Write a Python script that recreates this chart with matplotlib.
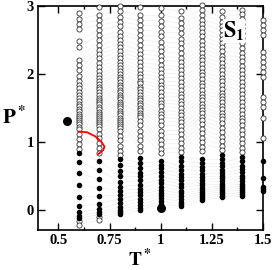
import matplotlib.pyplot as plt
import numpy as np

plt.rcParams['font.family'] = 'serif'
plt.rcParams['font.serif'] = ['Liberation Serif', 'DejaVu Serif']
plt.rcParams['font.weight'] = 'bold'
plt.rcParams['mathtext.fontset'] = 'stix'

# isotherm columns: open (top, descending) / filled (bottom, descending)
open_06 = [2.90, 2.81, 2.74, 2.66, 2.48, 2.40, 2.21, 2.13, 2.06, 1.97, 1.90, 1.84, 1.79, 1.74, 1.69, 1.65, 1.60,
           1.56, 1.52, 1.48, 1.45, 1.41, 1.38, 1.35, 1.32, 1.29, 1.26, 1.22, 1.19, 1.12, 1.04, 0.97, 0.90]
filled_06 = [0.84, 0.70, 0.54, 0.37, 0.19, 0.05, -0.04, -0.09, -0.13]
low_06 = [-0.17, -0.22]

open_07 = [2.99, 2.87, 2.79, 2.72, 2.65, 2.57, 2.50, 2.43, 2.35, 2.29, 2.23, 2.16, 2.10, 2.04, 1.99, 1.94, 1.89,
           1.85, 1.81, 1.77, 1.73, 1.69, 1.65, 1.62, 1.58, 1.55, 1.51, 1.48, 1.44, 1.41, 1.38, 1.35, 1.32, 1.29,
           1.26, 1.23, 1.19, 1.12, 1.05, 0.98, 0.91, 0.84]
filled_07 = [0.72, 0.58, 0.45, 0.32, 0.20, 0.09, 0.01, -0.04, -0.07]
low_07 = [-0.11, -0.15]

open_08 = [3.00, 2.92, 2.84, 2.77, 2.70, 2.62, 2.56, 2.50, 2.44, 2.39, 2.33, 2.28, 2.23, 2.18, 2.13, 2.09, 2.04,
           2.00, 1.96, 1.92, 1.88, 1.84, 1.80, 1.76, 1.73, 1.69, 1.66, 1.63, 1.59, 1.56, 1.52, 1.49, 1.46, 1.42,
           1.39, 1.35, 1.32, 1.29, 1.26, 1.23, 1.20, 1.16, 1.09, 1.02, 0.94, 0.87, 0.80]
filled_08 = [0.75, 0.66, 0.57, 0.49, 0.41, 0.34, 0.28, 0.22, 0.16, 0.10, 0.04, 0.00, -0.04, -0.07]

open_09 = [2.98, 2.87, 2.79, 2.72, 2.65, 2.57, 2.50, 2.43, 2.35, 2.29, 2.23, 2.17, 2.11, 2.05, 2.00, 1.95, 1.90,
           1.86, 1.81, 1.77, 1.73, 1.69, 1.65, 1.61, 1.57, 1.54, 1.50, 1.47, 1.43, 1.40, 1.36, 1.31, 1.24, 1.16,
           1.09, 1.02, 0.94, 0.87]
filled_09 = [0.76, 0.69, 0.62, 0.54, 0.49, 0.43, 0.37, 0.31, 0.26, 0.22, 0.16, 0.12, 0.07, 0.03, -0.01]

open_10 = [2.97, 2.87, 2.78, 2.71, 2.62, 2.55, 2.47, 2.40, 2.33, 2.26, 2.20, 2.13, 2.07, 2.01, 1.95, 1.90, 1.84,
           1.79, 1.73, 1.68, 1.62, 1.57, 1.52, 1.46, 1.41, 1.36, 1.31, 1.24, 1.16, 1.10, 1.03, 0.97, 0.90, 0.83]
filled_10 = [0.71, 0.66, 0.61, 0.55, 0.49, 0.44, 0.39, 0.34, 0.29, 0.25, 0.21, 0.17, 0.13, 0.09]

open_11 = [2.92, 2.82, 2.75, 2.67, 2.60, 2.52, 2.45, 2.38, 2.30, 2.24, 2.18, 2.11, 2.05, 2.00, 1.94, 1.88, 1.82,
           1.76, 1.71, 1.66, 1.60, 1.55, 1.50, 1.44, 1.39, 1.34, 1.29, 1.23, 1.17, 1.11, 1.04, 0.98, 0.91, 0.85]
filled_11 = [0.77, 0.71, 0.65, 0.59, 0.53, 0.48, 0.43, 0.38, 0.33, 0.28, 0.24, 0.20, 0.16, 0.12, 0.08, 0.05]

open_12 = [3.01, 2.94, 2.87, 2.80, 2.74, 2.67, 2.61, 2.55, 2.49, 2.43, 2.37, 2.31, 2.25, 2.20, 2.14, 2.09, 2.03,
           1.98, 1.93, 1.87, 1.82, 1.76, 1.71, 1.66, 1.61, 1.56, 1.51, 1.47, 1.42, 1.37, 1.32, 1.26, 1.19, 1.13,
           1.06, 0.99, 0.93, 0.86]
filled_12 = [0.75, 0.69, 0.63, 0.58, 0.53, 0.48, 0.44, 0.40, 0.36, 0.32, 0.29, 0.26, 0.23, 0.20, 0.17, 0.14]

open_13 = [2.92, 2.84, 2.77, 2.71, 2.64, 2.57, 2.51, 2.45, 2.39, 2.33, 2.27, 2.22, 2.16, 2.10, 2.05, 2.00, 1.94,
           1.89, 1.83, 1.78, 1.72, 1.68, 1.63, 1.58, 1.53, 1.48, 1.43, 1.38, 1.33, 1.27, 1.20, 1.14, 1.07, 1.01,
           0.94, 0.88]
filled_13 = [0.81, 0.75, 0.69, 0.64, 0.59, 0.54, 0.50, 0.46, 0.42, 0.38, 0.35, 0.32, 0.29, 0.26, 0.23, 0.20, 0.18]

open_14 = [2.94, 2.88, 2.81, 2.74, 2.67, 2.60, 2.53, 2.45, 2.38, 2.31, 2.25, 2.19, 2.12, 2.06, 2.00, 1.94, 1.88,
           1.82, 1.76, 1.71, 1.65, 1.59, 1.53, 1.47, 1.41, 1.35, 1.30, 1.24, 1.17, 1.11, 1.04, 0.98, 0.91, 0.85]
filled_14 = [0.77, 0.71, 0.65, 0.60, 0.55, 0.50, 0.46, 0.42, 0.38, 0.35, 0.32, 0.29, 0.26, 0.23, 0.20]

open_15 = [2.79, 2.72, 2.64, 2.57, 2.32, 2.25, 2.18, 2.10, 2.03, 1.96, 1.66, 1.59, 1.51, 1.35, 1.05]
filled_15 = [0.71, 0.47, 0.34, 0.31, 0.27]

# red line and the two big dots
red_t = [0.60, 0.64, 0.68, 0.71, 0.725, 0.72, 0.705, 0.695]
red_p = [1.15, 1.14, 1.08, 1.00, 0.93, 0.88, 0.84, 0.82]
big_t = [0.54, 1.0]
big_p = [1.30, 0.03]

columns = [
    (0.6, open_06, filled_06 + low_06),
    (0.7, open_07, filled_07 + low_07),
    (0.8, open_08, filled_08),
    (0.9, open_09, filled_09),
    (1.0, open_10, filled_10),
    (1.1, open_11, filled_11),
    (1.2, open_12, filled_12),
    (1.3, open_13, filled_13),
    (1.4, open_14, filled_14),
]

fig = plt.figure(figsize=(2.73, 2.70), dpi=100)
ax = fig.add_axes([0.139, 0.148, 0.824, 0.830])

# faint isochores between neighbouring isotherms
for (t1, o1, f1), (t2, o2, f2) in zip(columns[:-1], columns[1:]):
    for k in range(min(len(o1), len(o2))):
        ax.plot([t1, t2], [o1[k], o2[k]], color='#ededed', lw=0.4, zorder=1)
    fa, fb = f1[::-1], f2[::-1]
    for k in range(min(len(fa), len(fb))):
        ax.plot([t1, t2], [fa[k], fb[k]], color='#ededed', lw=0.4, zorder=1)

all_cols = [
    (0.6, open_06 + low_06, filled_06),
    (0.7, open_07 + low_07, filled_07),
    (0.8, open_08, filled_08),
    (0.9, open_09, filled_09),
    (1.0, open_10, filled_10),
    (1.1, open_11, filled_11),
    (1.2, open_12, filled_12),
    (1.3, open_13, filled_13),
    (1.4, open_14, filled_14),
    (1.5, open_15, filled_15),
]
for t, o, f in all_cols:
    ax.plot(np.full(len(o), t), o, 'o', mfc='white', mec='#222222', ms=3.7, mew=0.55,
            clip_on=False, zorder=3)
    ax.plot(np.full(len(f), t), f, 'o', color='black', ms=4.0, mew=0,
            clip_on=False, zorder=3)

ax.plot(red_t, red_p, color='red', lw=1.3, zorder=4)
ax.plot(big_t, big_p, 'o', color='black', ms=6.5, mew=0, zorder=4)

ax.text(1.36, 2.63, r'$\mathbf{S_1}$', fontsize=16, ha='center', va='center', zorder=5,
        bbox=dict(fc='white', ec='none', pad=0.3))

ax.set_xlim(0.4, 1.5)
ax.set_ylim(-0.3, 3)
ax.set_xticks([0.5, 0.75, 1.0, 1.25, 1.5])
ax.set_xticklabels(['0.5', '0.75', '1', '1.25', '1.5'])
ax.set_xticks(np.arange(0.625, 1.5, 0.25), minor=True)
ax.set_yticks([0, 1, 2, 3])
ax.set_yticks([-0.5 + 0.5 * i for i in range(1, 7, 2)], minor=True)
ax.tick_params(which='both', direction='in', top=True, right=True, labelsize=10.5, width=1)
ax.tick_params(which='major', length=5, pad=3)
ax.tick_params(which='minor', length=2.5)
for s in ax.spines.values():
    s.set_linewidth(1.2)

ax.text(-0.107, 0.50, r'$\mathbf{P^*}$', transform=ax.transAxes, fontsize=15, ha='center', va='center')
ax.text(0.453, -0.13, r'$\mathbf{T^*}$', transform=ax.transAxes, fontsize=14, ha='center', va='center')

fig.savefig('out.png', dpi=100)
